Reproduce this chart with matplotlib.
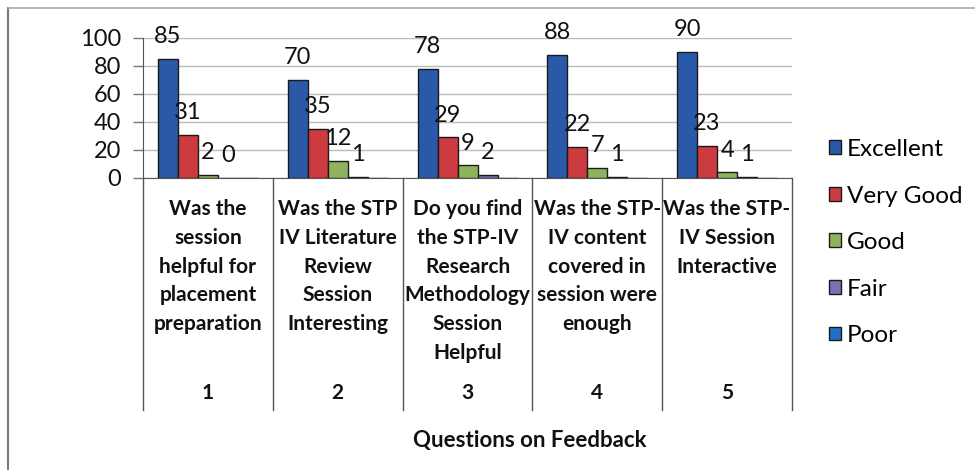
import matplotlib
matplotlib.use("Agg")
import matplotlib.pyplot as plt
from matplotlib.lines import Line2D
from matplotlib.patches import Patch
import numpy as np

plt.rcParams['font.family'] = ['Lato', 'DejaVu Sans']

categories = ["1", "2", "3", "4", "5"]
questions = [
    "Was the\nsession\nhelpful for\nplacement\npreparation",
    "Was the STP\nIV Literature\nReview\nSession\nInteresting",
    "Do you find\nthe STP-IV\nResearch\nMethodology\nSession\nHelpful",
    "Was the STP-\nIV content\ncovered in\nsession were\nenough",
    "Was the STP-\nIV Session\nInteractive",
]
series_names = ["Excellent", "Very Good", "Good", "Fair", "Poor"]
excellent = [85, 70, 78, 88, 90]
very_good = [31, 35, 29, 22, 23]
good = [2, 12, 9, 7, 4]
fair = [0, 1, 2, 1, 1]
poor = [0, 0, 0, 0, 0]
series = [excellent, very_good, good, fair, poor]
colors = ["#2A59A8", "#CC3B40", "#8FB35C", "#7E6EB2", "#1F70C4"]
show_labels = [True, True, True, True, False]

W, H = 975, 470
fig = plt.figure(figsize=(W / 100, H / 100), dpi=100)
fig.patch.set_facecolor("white")

L, R, T, B = 143, 792, 38, 178
ax = fig.add_axes([L / W, 1 - B / H, (R - L) / W, (B - T) / H])
ax.set_ylim(0, 100)
ax.set_xlim(-0.5, 4.5)

x = np.arange(len(categories))
bw = 20 / ((R - L) / 5)
for i, (name, vals, col) in enumerate(zip(series_names, series, colors)):
    xs = x + (i - 2) * bw
    ax.bar(xs, vals, width=bw, color=col, edgecolor="#1a1a1a",
           linewidth=1.0, label=name, zorder=3)
    if show_labels[i]:
        for xx, v in zip(xs, vals):
            ax.annotate(str(v), (xx, v), xytext=(0, 16), textcoords="offset points",
                        ha="center", va="center", fontsize=17, color="#111111",
                        zorder=4)

ax.set_yticks([0, 20, 40, 60, 80, 100])
ax.tick_params(axis="y", labelsize=17, length=7, width=1, color="#777777",
               pad=9, labelcolor="#111111")
ax.set_xticks([])
ax.grid(axis="y", color="#bbbbbb", linewidth=1, zorder=0)
for s in ["top", "right"]:
    ax.spines[s].set_visible(False)
ax.spines["left"].set_color("#555555")
ax.spines["bottom"].set_color("#555555")

# multi-level category area
px = 1 / (B - T)  # axes units per pixel (vertical)
bottom_line = -(410 - B) * px
for k in range(len(categories) + 1):
    xv = k - 0.5
    ax.add_line(Line2D([xv, xv], [0, bottom_line], color="#555555",
                       linewidth=1.0, clip_on=False,
                       transform=ax.get_xaxis_transform()))
for k, (q, c) in enumerate(zip(questions, categories)):
    ax.text(k, -(199 - B) * px, q, ha="center", va="top", fontsize=15,
            fontweight="bold", linespacing=1.55, color="#111111",
            transform=ax.get_xaxis_transform())
    ax.text(k, -(393 - B) * px, c, ha="center", va="center", fontsize=15,
            fontweight="bold", color="#111111",
            transform=ax.get_xaxis_transform())

fig.text(530 / W, 1 - 440 / H, "Questions on Feedback", ha="center",
         va="center", fontsize=16, fontweight="bold", color="#111111")

handles = [Patch(facecolor=c, edgecolor="#1a1a1a", linewidth=1.0) for c in colors]
fig.legend(handles, series_names, loc="upper left",
           bbox_to_anchor=(829 / W, 1 - 139 / H), frameon=False, fontsize=17.5,
           labelspacing=1.05, handlelength=0.5, handleheight=0.5,
           handletextpad=0.25, borderaxespad=0, borderpad=0)

# outer frame
fig.add_artist(Line2D([8 / W, 8 / W], [0, 1 - 8 / H], color="#777777",
                      linewidth=1.5, transform=fig.transFigure))
fig.add_artist(Line2D([8 / W, 1], [1 - 8 / H, 1 - 8 / H], color="#aaaaaa",
                      linewidth=1.2, transform=fig.transFigure))

fig.savefig("out.png", dpi=100)
